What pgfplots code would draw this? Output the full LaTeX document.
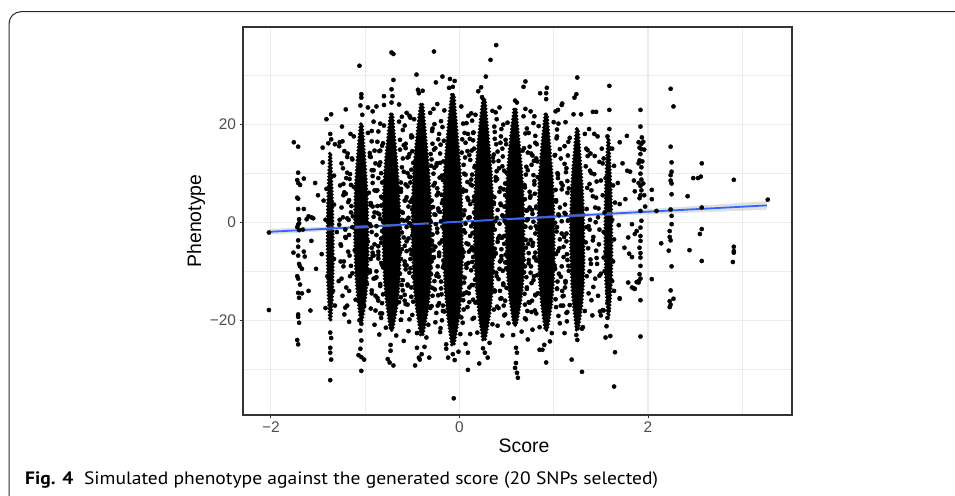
\documentclass[border=0pt]{standalone}
\usepackage{fontspec}
\setmainfont{Liberation Sans}
\newfontfamily\capfont{PT Sans}
\usepackage{pgfplots}
\pgfplotsset{compat=1.18}
\definecolor{grey92}{RGB}{235,235,235}
\definecolor{grey20}{RGB}{51,51,51}
\definecolor{grey30}{RGB}{77,77,77}
\definecolor{smoothblue}{HTML}{3366FF}
\definecolor{framecol}{RGB}{40,40,40}
\begin{document}
\begin{tikzpicture}
\useasboundingbox (0,0) rectangle (955bp,496bp);
% outer figure frame (rounded top-left corner)
\draw[framecol, line width=1bp, rounded corners=12bp] (9bp,-20bp) -- (9bp,484.3bp) -- (980bp,484.3bp);
\begin{axis}[
  at={(243bp,81bp)}, anchor=south west,
  scale only axis, width=549bp, height=388bp,
  xmin=-2.295, xmax=3.527, ymin=-39.3, ymax=39.8,
  xtick={-2,0,2}, xticklabels={−2,0,2},
  ytick={-20,0,20}, yticklabels={−20,0,20},
  minor xtick={-1,1,3}, minor ytick={-30,-10,10,30},
  grid=both,
  major grid style={grey92, line width=1.1bp},
  minor grid style={grey92, line width=0.55bp},
  axis line style={grey20, line width=1.1bp},
  tick pos=left, tick align=outside,
  major tick length=3.5bp, minor tick length=0pt,
  tick style={grey20, line width=1bp},
  tick label style={font=\fontsize{15.5}{16}\selectfont, text=grey30},
  /pgf/number format/assume math mode=true,
]
% dense cores of the score clusters (dotted outline gives a speckled edge)
\pgfplotsset{core/.style={fill=black, draw=black, line width=3.8bp, line cap=round, dash pattern=on 0pt off 3.3bp}}
% -1.37
\addplot[core] coordinates {(-1.375,14)(-1.3805,11.28)(-1.388,7.88)(-1.3955,3.8)(-1.3985,-0.28)(-1.40,-4.36)(-1.3976,-8.44)(-1.394,-12.52)(-1.3865,-15.92)(-1.379,-18.3)(-1.375,-20)
 (-1.365,-20)(-1.3595,-18.3)(-1.3505,-15.92)(-1.3436,-12.52)(-1.3406,-8.44)(-1.3415,-4.36)(-1.343,-0.28)(-1.3475,3.8)(-1.355,7.88)(-1.3616,11.28)(-1.365,14)(-1.375,14)};
% -1.04
\addplot[core] coordinates {(-1.0484,20)(-1.0645,16.8)(-1.082,12.8)(-1.0995,8)(-1.1065,3.2)(-1.11,-1.6)(-1.1044,-6.4)(-1.096,-11.2)(-1.0785,-15.2)(-1.061,-18)(-1.0484,-20)
 (-1.0316,-20)(-1.0155,-18)(-0.9945,-15.2)(-0.9784,-11.2)(-0.9714,-6.4)(-0.9735,-1.6)(-0.977,3.2)(-0.9875,8)(-1.005,12.8)(-1.0204,16.8)(-1.0316,20)(-1.0484,20)};
% -0.72
\addplot[core] coordinates {(-0.7308,22)(-0.7515,18.48)(-0.774,14.08)(-0.7965,8.8)(-0.8055,3.52)(-0.81,-1.76)(-0.8028,-7.04)(-0.792,-12.32)(-0.7695,-16.72)(-0.747,-19.8)(-0.7308,-22)
 (-0.7092,-22)(-0.6885,-19.8)(-0.6615,-16.72)(-0.6408,-12.32)(-0.6318,-7.04)(-0.6345,-1.76)(-0.639,3.52)(-0.6525,8.8)(-0.675,14.08)(-0.6948,18.48)(-0.7092,22)(-0.7308,22)};
% -0.40
\addplot[core] coordinates {(-0.412,24)(-0.435,20.24)(-0.46,15.54)(-0.485,9.9)(-0.495,4.26)(-0.50,-1.38)(-0.492,-7.02)(-0.48,-12.66)(-0.455,-17.36)(-0.43,-20.65)(-0.412,-23)
 (-0.388,-23)(-0.365,-20.65)(-0.335,-17.36)(-0.312,-12.66)(-0.302,-7.02)(-0.305,-1.38)(-0.31,4.26)(-0.325,9.9)(-0.35,15.54)(-0.372,20.24)(-0.388,24)(-0.412,24)};
% -0.07
\addplot[core] coordinates {(-0.082,26)(-0.105,21.92)(-0.13,16.82)(-0.155,10.7)(-0.165,4.58)(-0.17,-1.54)(-0.162,-7.66)(-0.15,-13.78)(-0.125,-18.88)(-0.10,-22.45)(-0.082,-25)
 (-0.058,-25)(-0.035,-22.45)(-0.005,-18.88)(0.018,-13.78)(0.028,-7.66)(0.025,-1.54)(0.02,4.58)(0.005,10.7)(-0.02,16.82)(-0.042,21.92)(-0.058,26)(-0.082,26)};
% 0.26
\addplot[core] coordinates {(0.248,25)(0.225,21.08)(0.20,16.18)(0.175,10.3)(0.165,4.42)(0.16,-1.46)(0.168,-7.34)(0.18,-13.22)(0.205,-18.12)(0.23,-21.55)(0.248,-24)
 (0.272,-24)(0.295,-21.55)(0.325,-18.12)(0.348,-13.22)(0.358,-7.34)(0.355,-1.46)(0.35,4.42)(0.335,10.3)(0.31,16.18)(0.288,21.08)(0.272,25)(0.248,25)};
% 0.59
\addplot[core] coordinates {(0.5786,23)(0.5567,19.48)(0.533,15.08)(0.5092,9.8)(0.4997,4.52)(0.495,-0.76)(0.5026,-6.04)(0.514,-11.32)(0.5377,-15.72)(0.5615,-18.8)(0.5786,-21)
 (0.6014,-21)(0.6233,-18.8)(0.6518,-15.72)(0.6736,-11.32)(0.6831,-6.04)(0.6803,-0.76)(0.6755,4.52)(0.6613,9.8)(0.6375,15.08)(0.6166,19.48)(0.6014,23)(0.5786,23)};
% 0.92
\addplot[core] coordinates {(0.9098,22)(0.8902,18.48)(0.869,14.08)(0.8477,8.8)(0.8392,3.52)(0.835,-1.76)(0.8418,-7.04)(0.852,-12.32)(0.8732,-16.72)(0.8945,-19.8)(0.9098,-22)
 (0.9302,-22)(0.9498,-19.8)(0.9753,-16.72)(0.9948,-12.32)(1.0033,-7.04)(1.0008,-1.76)(0.9965,3.52)(0.9838,8.8)(0.9625,14.08)(0.9438,18.48)(0.9302,22)(0.9098,22)};
% 1.25
\addplot[core] coordinates {(1.2416,19)(1.2255,15.72)(1.208,11.62)(1.1905,6.7)(1.1835,1.78)(1.18,-3.14)(1.1856,-8.06)(1.194,-12.98)(1.2115,-17.08)(1.229,-19.95)(1.2416,-22)
 (1.2584,-22)(1.2745,-19.95)(1.2955,-17.08)(1.3116,-12.98)(1.3186,-8.06)(1.3165,-3.14)(1.313,1.78)(1.3025,6.7)(1.285,11.62)(1.2696,15.72)(1.2584,19)(1.2416,19)};
% 1.58
\addplot[core] coordinates {(1.575,17)(1.5677,14.12)(1.559,10.52)(1.5502,6.2)(1.5467,1.88)(1.545,-2.44)(1.5478,-6.76)(1.552,-11.08)(1.5607,-14.68)(1.5695,-17.2)(1.575,-19)
 (1.585,-19)(1.5923,-17.2)(1.6028,-14.68)(1.6108,-11.08)(1.6143,-6.76)(1.6133,-2.44)(1.6115,1.88)(1.6063,6.2)(1.5975,10.52)(1.5898,14.12)(1.585,17)(1.575,17)};
% individual points
\addplot[only marks, mark=*, mark size=2.1bp, black] coordinates {
% score -2.02 and -1.71
(-2.02,-2.1)(-2.02,-17.9)
(-1.756,16.3)(-1.71,15.4)(-1.71,10.1)(-1.72,8.6)(-1.71,8.0)(-1.69,7.6)(-1.65,8.9)(-1.72,5.0)(-1.71,4.8)(-1.71,2.7)(-1.65,2.7)
(-1.70,0.6)(-1.62,0.6)(-1.60,1.2)(-1.70,-0.2)(-1.70,-1.6)(-1.71,-0.5)(-1.72,-1.0)(-1.66,-1.5)(-1.71,-3.7)(-1.71,-5.0)(-1.76,-6.2)
(-1.71,-6.8)(-1.65,-6.0)(-1.64,-7.0)(-1.70,-8.5)(-1.69,-9.0)(-1.67,-9.5)(-1.72,-11.0)(-1.71,-11.5)(-1.69,-12.7)(-1.67,-14.5)
(-1.71,-14.4)(-1.70,-15.4)(-1.71,-18.8)(-1.71,-19.3)(-1.70,-20.5)(-1.72,-24.0)(-1.71,-24.9)
(-1.57,1.0)(-1.55,0.8)(-1.57,-3.8)(-1.52,-9.5)(-1.60,-14.0)(-1.50,5.5)(-1.53,8.0)(-1.58,-18.0)
% score -1.37
(-1.41,21.0)(-1.36,22.0)(-1.37,18.0)(-1.36,16.9)(-1.39,16.1)(-1.32,15.9)(-1.45,15.2)(-1.45,12.2)(-1.44,4.4)(-1.46,-6.5)
(-1.33,-7.5)(-1.30,-2.0)(-1.40,-11.0)(-1.34,-14.0)(-1.32,-17.0)(-1.42,-17.5)(-1.37,-22.5)(-1.36,-23.6)(-1.37,-25.6)(-1.37,-26.6)
(-1.36,-28.0)(-1.37,-32.2)(-1.33,9.5)(-1.41,6.8)(-1.42,0.5)(-1.33,3.6)
(-1.23,7.8)(-1.22,6.1)(-1.19,10.1)(-1.19,13.3)(-1.27,16.3)(-1.24,16.5)(-1.15,7.6)(-1.25,3.0)(-1.21,-1.5)(-1.26,-4.5)(-1.23,-9.0)(-1.28,-12.0)(-1.19,0.8)
(-1.25,12)(-1.17,4.5)(-1.21,-3)(-1.26,-8)(-1.16,-11)(-1.22,14.5)(-1.18,-6)(-1.24,-15)(-1.15,2)(-1.20,9)(-1.27,0.5)(-1.19,-17)(-1.23,5.5)(-1.17,-14)(-1.25,-11.5)
(-1.205,23)(-1.245,19.5)(-1.155,18)(-1.275,15.5)(-1.185,14)(-1.135,12.8)(-1.235,11)(-1.165,8.8)(-1.265,7.5)(-1.205,5.8)
(-1.145,3.3)(-1.235,1)(-1.175,0.5)(-1.275,-0.5)(-1.135,-1)(-1.205,-3.2)(-1.255,-4.8)(-1.165,-6.8)(-1.225,-8)(-1.135,-10.4)
% score -1.04
(-1.12,17.5)(-0.97,18.2)(-1.14,13.0)(-0.95,14.1)(-1.16,9.8)(-0.93,10.6)(-1.12,7.2)(-0.96,6.0)(-1.18,4.1)(-0.92,3.2)
(-1.13,1.2)(-0.94,-0.8)(-1.17,-2.6)(-0.97,-3.9)(-1.11,-5.7)(-0.91,-6.8)(-1.15,-8.9)(-0.95,-10.2)(-1.20,-13.3)(-0.98,-12.6)
(-1.10,-15.8)(-1.01,-17.1)(-1.22,-18.8)(-1.21,-17.4)(-1.17,-20.3)
(-1.06,31.9)(-1.04,26.1)(-1.04,25.4)(-1.05,23.8)(-1.03,21.9)(-0.97,23.4)(-1.06,-20.0)(-1.04,-20.7)(-1.05,-22.1)(-1.04,-24.1)
(-1.05,-25.8)(-1.07,-27.1)(-1.04,-27.5)(-1.01,-28.0)(-1.04,-30.3)
(-0.93,16.5)(-0.85,14.5)(-0.89,12)(-0.83,10)(-0.92,8)(-0.87,6.5)(-0.82,5)(-0.94,3.5)(-0.90,2)(-0.84,0.7)
(-0.88,-0.8)(-0.93,-2)(-0.83,-3.3)(-0.90,-4.5)(-0.86,-6)(-0.94,-7.5)(-0.82,-8.7)(-0.88,-10)(-0.91,-11.5)(-0.84,-13)
(-0.93,-14.5)(-0.86,-16)(-0.89,-18)(-0.83,-19.5)(-0.91,20.5)(-0.86,18.5)(-0.94,13.3)(-0.82,-16.5)(-0.87,3.3)(-0.92,-6.8)
(-0.88,23.6)(-0.84,20.1)(-0.93,18.6)(-0.81,16.1)(-0.90,14.6)(-0.95,13.4)(-0.85,11.6)(-0.92,9.4)(-0.82,8.1)(-0.88,6.4)
(-0.94,3.9)(-0.85,1.6)(-0.91,1.1)(-0.81,0.1)(-0.95,-0.4)(-0.88,-2.6)(-0.83,-4.2)(-0.92,-6.2)(-0.86,-7.4)(-0.95,-9.8)
(-0.81,-9.2)(-0.89,-11.4)(-0.84,-12.6)(-0.93,-13.9)(-0.87,-15.4)(-0.94,-17.6)(-0.82,-18.6)(-0.90,-20.9)(-0.85,-22.9)(-0.92,22.6)
(-0.86,-6.7)(-0.91,10.6)(-0.83,3.4)(-0.93,-5.2)(-0.87,16.4)
% score -0.72
(-0.80,19.7)(-0.64,20.5)(-0.82,15.6)(-0.63,16.8)(-0.84,12.2)(-0.60,13.0)(-0.86,9.0)(-0.62,8.1)(-0.83,5.2)(-0.58,4.4)
(-0.87,1.9)(-0.61,0.5)(-0.82,-1.8)(-0.59,-3.1)(-0.86,-4.9)(-0.63,-6.2)(-0.83,-8.3)(-0.57,-9.6)(-0.88,-11.2)(-0.61,-12.8)
(-0.81,-14.7)(-0.64,-16.3)(-0.84,-18.6)(-0.62,-19.9)(-0.78,-21.5)(-0.67,-23.1)(-0.90,6.5)(-0.56,-1.0)(-0.89,-15.0)(-0.55,10.0)
(-0.72,34.6)(-0.70,34.3)(-0.70,29.0)(-0.72,27.1)(-0.71,25.7)(-0.72,24.4)(-0.80,25.7)(-0.80,23.9)(-0.64,24.0)(-0.61,21.5)
(-0.73,-25.0)(-0.73,-26.2)(-0.74,-28.6)(-0.70,-29.2)(-0.76,-27.9)(-0.84,14.6)
(-0.51,17.7)(-0.59,15.7)(-0.55,13.2)(-0.61,11.2)(-0.52,9.2)(-0.57,7.7)(-0.62,6.2)(-0.50,4.7)(-0.54,3.2)(-0.60,1.9)
(-0.56,0.4)(-0.51,-0.8)(-0.61,-2.1)(-0.54,-3.3)(-0.58,-4.8)(-0.50,-6.3)(-0.62,-7.5)(-0.56,-8.8)(-0.53,-10.3)(-0.60,-11.8)
(-0.51,-13.3)(-0.58,-14.8)(-0.55,-16.8)(-0.61,-18.3)(-0.53,21.7)(-0.58,19.7)(-0.50,14.5)(-0.62,-15.3)(-0.57,4.5)(-0.52,-5.6)
(-0.56,22.3)(-0.60,18.8)(-0.51,17.3)(-0.63,14.8)(-0.54,13.3)(-0.49,12.1)(-0.59,10.3)(-0.52,8.1)(-0.62,6.8)(-0.56,5.1)
(-0.50,2.6)(-0.59,0.3)(-0.53,-0.2)(-0.63,-1.2)(-0.49,-1.7)(-0.56,-3.9)(-0.61,-5.5)(-0.52,-7.5)(-0.58,-8.7)(-0.49,-11.1)
(-0.63,-10.5)(-0.55,-12.7)(-0.60,-13.9)(-0.51,-15.2)(-0.57,-16.7)(-0.50,-18.9)(-0.62,-19.9)(-0.54,-22.2)(-0.59,-24.2)(-0.52,21.3)
(-0.58,-8)(-0.53,9.3)(-0.61,2.1)(-0.51,-6.5)(-0.57,15.1)
% score -0.40
(-0.48,21.0)(-0.31,22.3)(-0.50,17.4)(-0.29,18.6)(-0.53,13.9)(-0.27,14.8)(-0.51,10.7)(-0.30,11.5)(-0.55,7.3)(-0.26,8.0)
(-0.52,4.2)(-0.28,3.1)(-0.54,0.9)(-0.25,-0.4)(-0.50,-2.7)(-0.29,-3.8)(-0.56,-5.9)(-0.27,-7.1)(-0.52,-9.4)(-0.30,-10.6)
(-0.55,-12.9)(-0.26,-13.7)(-0.49,-16.2)(-0.31,-17.5)(-0.53,-19.8)(-0.33,-20.9)(-0.45,-22.6)(-0.35,-23.5)(-0.57,16.0)(-0.24,5.5)
(-0.58,-16.0)(-0.23,-9.0)
(-0.455,30.1)(-0.44,27.0)(-0.43,26.3)(-0.27,34.8)(-0.39,26.8)(-0.45,-25.6)(-0.40,-26.9)(-0.42,-28.0)(-0.47,-29.2)(-0.43,-27.6)
(-0.32,-27.6)(-0.37,-25.4)
(-0.285,16)(-0.205,14)(-0.245,11.5)(-0.185,9.5)(-0.275,7.5)(-0.225,6)(-0.175,4.5)(-0.295,3)(-0.255,1.5)(-0.195,0.2)
(-0.235,-1.3)(-0.285,-2.5)(-0.185,-3.8)(-0.255,-5)(-0.215,-6.5)(-0.295,-8)(-0.175,-9.2)(-0.235,-10.5)(-0.265,-12)(-0.195,-13.5)
(-0.285,-15)(-0.215,-16.5)(-0.245,-18.5)(-0.185,-20)(-0.265,20)(-0.215,18)(-0.295,12.8)(-0.175,-17)(-0.225,2.8)(-0.275,-7.3)
(-0.235,24.1)(-0.195,20.6)(-0.285,19.1)(-0.165,16.6)(-0.255,15.1)(-0.305,13.9)(-0.205,12.1)(-0.275,9.9)(-0.175,8.6)(-0.235,6.9)
(-0.295,4.4)(-0.205,2.1)(-0.265,1.6)(-0.165,0.6)(-0.305,0.1)(-0.235,-2.1)(-0.185,-3.7)(-0.275,-5.7)(-0.215,-6.9)(-0.305,-9.3)
(-0.165,-8.7)(-0.245,-10.9)(-0.195,-12.1)(-0.285,-13.4)(-0.225,-14.9)(-0.295,-17.1)(-0.175,-18.1)(-0.255,-20.4)(-0.205,-22.4)(-0.275,23.1)
(-0.215,-6.2)(-0.265,11.1)(-0.185,3.9)(-0.285,-4.7)(-0.225,16.9)
% score -0.07
(-0.16,22.8)(0.02,23.6)(-0.18,19.4)(0.04,20.1)(-0.20,15.8)(0.03,16.9)(-0.17,12.4)(0.06,13.2)(-0.21,9.1)(0.05,9.9)
(-0.19,5.6)(0.07,6.4)(-0.22,2.3)(0.04,1.4)(-0.18,-0.9)(0.06,-2.1)(-0.21,-4.3)(0.03,-5.5)(-0.17,-7.8)(0.07,-8.6)
(-0.22,-11.1)(0.05,-12.3)(-0.19,-14.7)(0.04,-15.9)(-0.16,-18.2)(0.02,-19.4)(-0.20,-21.6)(0.01,-22.8)(-0.14,-24.9)(-0.01,-26.4)
(0.09,18.0)(-0.23,-17.0)(0.10,-6.0)(-0.24,12.0)
(-0.25,28.5)(-0.18,29.7)(-0.10,29.2)(-0.05,28.8)(-0.11,27.4)(-0.07,27.6)(-0.06,-35.9)(-0.07,-26.9)(-0.05,-28.1)(0.09,-30.1)
(0.09,-26.6)(-0.12,-27.6)(-0.14,-25.8)
(0.145,18.2)(0.065,16.2)(0.105,13.7)(0.045,11.7)(0.135,9.7)(0.085,8.2)(0.035,6.7)(0.155,5.2)(0.115,3.7)(0.055,2.4)
(0.095,0.9)(0.145,-0.3)(0.045,-1.6)(0.115,-2.8)(0.075,-4.3)(0.155,-5.8)(0.035,-7)(0.095,-8.3)(0.125,-9.8)(0.055,-11.3)
(0.145,-12.8)(0.075,-14.3)(0.105,-16.3)(0.045,-17.8)(0.125,22.2)(0.075,20.2)(0.155,15)(0.035,-14.8)(0.085,5)(0.135,-5.1)
(0.095,21.7)(0.055,18.2)(0.145,16.7)(0.025,14.2)(0.115,12.7)(0.165,11.5)(0.065,9.7)(0.135,7.5)(0.035,6.2)(0.095,4.5)
(0.155,2)(0.065,-0.3)(0.125,-0.8)(0.025,-1.8)(0.165,-2.3)(0.095,-4.5)(0.045,-6.1)(0.135,-8.1)(0.075,-9.3)(0.165,-11.7)
(0.025,-11.1)(0.105,-13.3)(0.055,-14.5)(0.145,-15.8)(0.085,-17.3)(0.155,-19.5)(0.035,-20.5)(0.115,-22.8)(0.065,-24.8)(0.135,20.7)
(0.075,-8.6)(0.125,8.7)(0.045,1.5)(0.145,-7.1)(0.085,14.5)
% score 0.26
(0.17,21.9)(0.35,22.7)(0.15,18.3)(0.37,19.5)(0.13,14.6)(0.39,15.9)(0.16,11.2)(0.36,12.4)(0.12,7.7)(0.40,8.8)
(0.15,4.3)(0.37,5.1)(0.11,1.0)(0.38,0.2)(0.14,-2.2)(0.41,-3.3)(0.12,-5.6)(0.36,-6.9)(0.16,-9.1)(0.39,-10.3)
(0.13,-12.8)(0.37,-13.9)(0.17,-16.4)(0.40,-17.2)(0.14,-19.7)(0.35,-20.8)(0.19,-22.5)(0.32,-24.6)(0.42,11.0)(0.10,-14.5)
(0.43,-8.0)(0.11,17.0)
(0.33,33.1)(0.39,36.1)(0.20,26.7)(0.23,27.5)(0.28,29.7)(0.24,25.5)(0.30,-27.6)(0.25,-25.7)(0.27,-26.6)(0.21,-28.8)
(0.375,17)(0.455,15)(0.415,12.5)(0.475,10.5)(0.385,8.5)(0.435,7)(0.485,5.5)(0.365,4)(0.405,2.5)(0.465,1.2)
(0.425,-0.3)(0.375,-1.5)(0.475,-2.8)(0.405,-4)(0.445,-5.5)(0.365,-7)(0.485,-8.2)(0.425,-9.5)(0.395,-11)(0.465,-12.5)
(0.375,-14)(0.445,-15.5)(0.415,-17.5)(0.475,-19)(0.395,21)(0.445,19)(0.365,13.8)(0.485,-16)(0.435,3.8)(0.385,-6.3)
(0.425,23.4)(0.465,19.9)(0.375,18.4)(0.495,15.9)(0.405,14.4)(0.355,13.2)(0.455,11.4)(0.385,9.2)(0.485,7.9)(0.425,6.2)
(0.365,3.7)(0.455,1.4)(0.395,0.9)(0.495,-0.1)(0.355,-0.6)(0.425,-2.8)(0.475,-4.4)(0.385,-6.4)(0.445,-7.6)(0.355,-10)
(0.495,-9.4)(0.415,-11.6)(0.465,-12.8)(0.375,-14.1)(0.435,-15.6)(0.365,-17.8)(0.485,-18.8)(0.405,-21.1)(0.455,-23.1)(0.385,22.4)
(0.445,-6.9)(0.395,10.4)(0.475,3.2)(0.375,-5.4)(0.435,16.2)
% score 0.59
(0.51,20.3)(0.68,21.6)(0.49,16.8)(0.70,18.1)(0.46,13.4)(0.67,14.6)(0.50,10.1)(0.71,11.3)(0.47,6.7)(0.69,7.6)
(0.44,3.5)(0.72,2.4)(0.48,0.2)(0.70,-0.9)(0.45,-3.2)(0.73,-4.4)(0.49,-6.6)(0.68,-7.7)(0.46,-9.9)(0.71,-11.2)
(0.50,-13.4)(0.69,-14.6)(0.47,-17.0)(0.72,-18.1)(0.52,-20.6)(0.66,-22.3)(0.75,5.0)(0.43,-14.0)(0.76,-9.0)(0.44,17.5)
(0.61,24.4)(0.59,24.8)(0.68,27.6)(0.70,28.7)(0.70,23.1)(0.60,-25.6)(0.61,-26.6)(0.60,-28.7)(0.59,-29.7)(0.61,-30.7)
(0.62,-31.7)(0.57,-23.0)
(0.805,16.2)(0.725,14.2)(0.765,11.7)(0.705,9.7)(0.795,7.7)(0.745,6.2)(0.695,4.7)(0.815,3.2)(0.775,1.7)(0.715,0.4)
(0.755,-1.1)(0.805,-2.3)(0.705,-3.6)(0.775,-4.8)(0.735,-6.3)(0.815,-7.8)(0.695,-9)(0.755,-10.3)(0.785,-11.8)(0.715,-13.3)
(0.805,-14.8)(0.735,-16.3)(0.765,-18.3)(0.705,-19.8)(0.785,20.2)(0.735,18.2)(0.815,13)(0.695,-16.8)(0.745,3)(0.795,-7.1)
(0.755,22.6)(0.715,19.1)(0.805,17.6)(0.685,15.1)(0.775,13.6)(0.825,12.4)(0.725,10.6)(0.795,8.4)(0.695,7.1)(0.755,5.4)
(0.815,2.9)(0.725,0.6)(0.785,0.1)(0.685,-0.9)(0.825,-1.4)(0.755,-3.6)(0.705,-5.2)(0.795,-7.2)(0.735,-8.4)(0.825,-10.8)
(0.685,-10.2)(0.765,-12.4)(0.715,-13.6)(0.805,-14.9)(0.745,-16.4)(0.815,-18.6)(0.695,-19.6)(0.775,-21.9)(0.725,-23.9)(0.795,21.6)
(0.735,-7.7)(0.785,9.6)(0.705,2.4)(0.805,-6.2)(0.745,15.4)
% score 0.92
(0.84,19.6)(1.00,20.4)(0.82,15.9)(1.03,17.1)(0.79,12.5)(1.01,13.6)(0.83,9.2)(1.04,10.0)(0.80,5.8)(1.02,6.6)
(0.77,2.5)(1.05,1.6)(0.81,-0.8)(1.03,-1.9)(0.78,-4.2)(1.06,-5.3)(0.82,-7.6)(1.01,-8.8)(0.79,-11.0)(1.04,-12.1)
(0.83,-14.5)(1.02,-15.7)(0.80,-18.0)(1.05,-19.1)(0.85,-21.4)(0.98,-22.6)(1.08,8.0)(0.77,-16.0)(1.09,-14.0)(0.76,14.0)
(0.856,26.3)(0.927,27.4)(0.92,26.3)(0.92,25.1)(1.02,22.6)(1.09,24.2)(1.05,20.1)(0.92,-28.6)(0.85,-26.0)(0.88,-26.0)
(0.90,-25.0)(0.96,-24.3)
(1.035,17.5)(1.115,15.5)(1.075,13)(1.135,11)(1.045,9)(1.095,7.5)(1.145,6)(1.025,4.5)(1.065,3)(1.125,1.7)
(1.085,0.2)(1.035,-1)(1.135,-2.3)(1.065,-3.5)(1.105,-5)(1.025,-6.5)(1.145,-7.7)(1.085,-9)(1.055,-10.5)(1.125,-12)
(1.035,-13.5)(1.105,-15)(1.075,-17)(1.135,-18.5)
(1.085,23.9)(1.125,20.4)(1.035,18.9)(1.155,16.4)(1.065,14.9)(1.015,13.7)(1.115,11.9)(1.045,9.7)(1.145,8.4)(1.085,6.7)
(1.025,4.2)(1.115,1.9)(1.055,1.4)(1.155,0.4)(1.015,-0.1)(1.085,-2.3)(1.135,-3.9)(1.045,-5.9)(1.105,-7.1)(1.015,-9.5)
(1.155,-8.9)(1.075,-11.1)(1.125,-12.3)(1.035,-13.6)(1.095,-15.1)(1.025,-17.3)(1.145,-18.3)(1.065,-20.6)(1.115,-22.6)(1.045,22.9)
% score 1.25
(1.17,17.2)(1.33,18.0)(1.15,13.6)(1.36,14.7)(1.13,10.2)(1.34,11.4)(1.16,6.9)(1.38,7.8)(1.12,3.6)(1.35,2.7)
(1.15,0.3)(1.37,-0.8)(1.11,-3.0)(1.34,-4.1)(1.14,-6.5)(1.39,-7.6)(1.16,-9.9)(1.35,-11.0)(1.12,-13.3)(1.37,-14.5)
(1.17,-16.9)(1.33,-18.1)(1.14,-20.2)(1.31,-21.4)(1.40,10.0)(1.10,-17.0)
(1.25,29.5)(1.22,25.4)(1.24,26.1)(1.21,22.0)(1.29,22.0)(1.45,22.5)(1.19,-28.0)(1.30,-30.5)(1.25,-21.4)(1.30,-21.7)
(1.25,-24.0)(1.24,-23.0)
(1.39,14.0)(1.36,13.5)(1.51,15.0)(1.42,-3.0)(1.48,-4.5)(1.45,-5.8)(1.53,-7.2)(1.50,-10.5)(1.44,-11.5)(1.42,-13.2)
(1.40,-15.9)(1.49,-18.2)(1.52,-17.9)(1.45,5.0)(1.50,8.5)(1.47,1.0)(1.43,18.0)(1.52,12.0)
(1.38,-1.5)(1.44,3)(1.40,6.5)(1.46,-8.5)(1.38,-10)(1.43,9.8)(1.47,-15)(1.41,-19)
(1.415,22.5)(1.375,19)(1.465,17.5)(1.345,15)(1.435,13.5)(1.485,12.3)(1.385,10.5)(1.455,8.3)(1.355,7)(1.415,5.3)
(1.475,2.8)(1.385,0.5)(1.445,0)(1.345,-1)(1.485,-1.5)(1.415,-3.7)(1.365,-5.3)(1.455,-7.3)(1.395,-8.5)(1.485,-10.9)
% score 1.58
(1.59,27.8)(1.59,22.9)(1.59,19.0)(1.57,17.5)(1.62,15.0)(1.53,13.0)(1.64,11.5)(1.55,9.0)(1.63,7.5)(1.52,5.5)
(1.65,4.0)(1.54,2.0)(1.62,0.5)(1.53,-2.0)(1.64,-3.5)(1.55,-6.0)(1.63,-8.0)(1.54,-10.0)(1.62,-12.0)(1.57,-14.5)
(1.57,-16.5)(1.58,-18.0)(1.57,-19.5)(1.56,-21.2)(1.55,-23.5)(1.60,-23.2)(1.65,-26.5)(1.64,-33.5)(1.53,-18.0)(1.50,-19.0)
(1.70,-15.6)(1.64,-14.0)
(1.776,17.6)(1.70,16.3)(1.78,10.5)(1.81,10.3)(1.86,6.3)(1.76,4.7)(1.70,3.7)(1.85,8.5)(1.69,-0.6)(1.83,-0.4)
(1.79,-3.1)(1.86,-2.4)(1.88,-1.8)(1.75,-5.2)(1.80,-6.4)(1.83,-7.1)(1.79,-12.3)(1.83,-13.3)(1.86,-13.6)(1.70,-15.5)
(1.90,-12.3)(1.73,12.0)(1.68,8.0)
% score 1.92
(1.92,22.9)(1.92,19.5)(1.935,17.3)(1.90,16.3)(1.93,16.0)(1.95,16.4)(1.91,15.2)(1.93,14.9)(1.96,14.8)(1.92,13.9)
(1.91,12.6)(1.94,12.4)(1.90,12.0)(1.93,11.2)(1.92,9.9)(1.93,8.7)(1.90,8.0)(1.92,7.4)(1.95,7.9)(1.93,6.5)
(1.92,5.5)(1.91,4.9)(1.96,5.5)(1.92,2.3)(1.93,0.3)(1.92,-1.1)(1.92,-2.8)(1.92,-3.8)(1.91,-5.2)(1.92,-6.3)
(1.92,-7.2)(1.92,-8.9)(1.91,-10.6)(1.92,-11.5)(1.90,-12.0)(1.92,-15.9)(1.92,-23.3)(1.88,-12.2)(1.85,-13.5)(1.97,3.2)
(2.04,6.6)(2.04,4.7)(2.09,2.3)(2.14,-4.3)(2.04,-11.6)
% score 2.25 and beyond
(2.24,27.2)(2.27,23.6)(2.24,15.4)(2.25,12.2)(2.25,10.3)(2.24,9.6)(2.24,8.5)(2.25,7.9)(2.25,5.7)(2.24,2.6)
(2.25,1.3)(2.25,-0.4)(2.23,-1.8)(2.23,-3.0)(2.24,-3.7)(2.22,-5.8)(2.25,-9.0)(2.24,-13.9)(2.27,-15.6)(2.23,-16.1)
(2.24,-16.8)(2.23,-17.3)
(2.57,12.0)(2.48,9.0)(2.53,9.0)(2.56,9.3)(2.42,5.3)(2.57,3.0)(2.57,-1.4)(2.55,-2.4)(2.44,-5.7)(2.57,-7.9)
(2.91,8.65)(2.91,-5.0)(2.91,-5.9)(2.91,-6.2)(2.90,-8.1)
(3.27,4.6)
};
% confidence band of the linear fit
\addplot[fill=gray!60, fill opacity=0.4, draw=none] coordinates {
(-2.02,-1.37)(-1.5,-0.97)(-1,-0.59)(-0.5,-0.19)(0,0.25)(0.5,0.80)(1,1.41)(1.5,2.04)(2,2.67)(2.5,3.32)(3.26,4.30)
(3.26,2.56)(2.5,1.99)(2,1.61)(1.5,1.22)(1,0.84)(0.5,0.43)(0,-0.05)(-0.5,-0.63)(-1,-1.25)(-1.5,-1.89)(-2.02,-2.55)(-2.02,-1.37)
};
% fitted line
\addplot[smoothblue, line width=1.8bp] coordinates {(-2.02,-1.96)(3.26,3.43)};
\end{axis}
% axis titles
\node[anchor=base, font=\fontsize{19.5}{20}\selectfont] at (524bp,43.7bp) {Score};
\node[anchor=base, rotate=90, font=\fontsize{19.5}{20}\selectfont] at (201bp,275bp) {Phenotype};
% caption
\node[anchor=base west, inner sep=0pt, font=\capfont\fontsize{18}{20}\selectfont] at (25bp,12bp)
  {\scalebox{1.09}[1]{\textbf{Fig. 4}\hspace{0.55em}Simulated phenotype against the generated score (20 SNPs selected)}};
\end{tikzpicture}
\end{document}
